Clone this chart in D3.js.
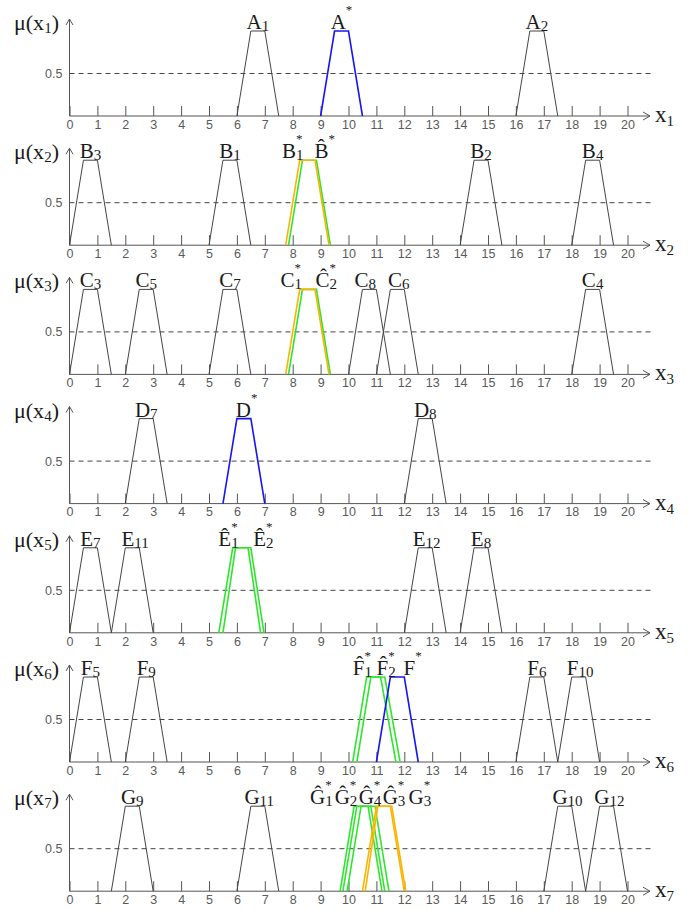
<!DOCTYPE html>
<html>
<head>
<meta charset="utf-8">
<script src="https://cdn.jsdelivr.net/npm/d3@7"></script>
<style>
  body { margin: 0; background: #fff; }
  .tick text { font-family: "Liberation Sans", Arial, sans-serif; font-size: 12.5px; fill: #5a5a5a; }
  .lab { font-family: "Liberation Serif", "Times New Roman", serif; fill: #1a1a1a; }
</style>
</head>
<body>
<svg width="695" height="910"></svg>
<script>
// tick labels on every x axis
var xTicks = [0,1,2,3,4,5,6,7,8,9,10,11,12,13,14,15,16,17,18,19,20];
var panelIds = ["1","2","3","4","5","6","7"];

// each set: letter, subscript, star, hat, kind, trapezoid corners, label x (data units)
var setsX1 = [
  {l:"A", sub:"1", star:false, hat:false, kind:"base",  pts:[6,6.5,7,7.5], at:6.75},
  {l:"A", sub:"",  star:true,  hat:false, kind:"blue",  pts:[9,9.5,10,10.5], at:9.75},
  {l:"A", sub:"2", star:false, hat:false, kind:"base",  pts:[16,16.5,17,17.5], at:16.75}
];
var setsX2 = [
  {l:"B", sub:"3", star:false, hat:false, kind:"base",  pts:[0,0.5,1,1.5], at:0.75},
  {l:"B", sub:"1", star:false, hat:false, kind:"base",  pts:[5,5.5,6,6.5], at:5.75},
  {l:"B", sub:"",  star:true,  hat:true,  kind:"green", pts:[7.85,8.35,8.85,9.35], at:9.15},
  {l:"B", sub:"1", star:true,  hat:false, kind:"yellow",pts:[7.75,8.25,8.8,9.3], at:8.0},
  {l:"B", sub:"2", star:false, hat:false, kind:"base",  pts:[14,14.5,15,15.5], at:14.75},
  {l:"B", sub:"4", star:false, hat:false, kind:"base",  pts:[18,18.5,19,19.5], at:18.75}
];
var setsX3 = [
  {l:"C", sub:"3", star:false, hat:false, kind:"base",  pts:[0,0.5,1,1.5], at:0.75},
  {l:"C", sub:"5", star:false, hat:false, kind:"base",  pts:[2,2.5,3,3.5], at:2.75},
  {l:"C", sub:"7", star:false, hat:false, kind:"base",  pts:[5,5.5,6,6.5], at:5.75},
  {l:"C", sub:"2", star:true,  hat:true,  kind:"green", pts:[7.85,8.35,8.85,9.35], at:9.2},
  {l:"C", sub:"1", star:true,  hat:false, kind:"yellow",pts:[7.75,8.25,8.8,9.3], at:7.95},
  {l:"C", sub:"8", star:false, hat:false, kind:"base",  pts:[10,10.5,11,11.5], at:10.6},
  {l:"C", sub:"6", star:false, hat:false, kind:"base",  pts:[11,11.5,12,12.5], at:11.8},
  {l:"C", sub:"4", star:false, hat:false, kind:"base",  pts:[18,18.5,19,19.5], at:18.75}
];
var setsX4 = [
  {l:"D", sub:"7", star:false, hat:false, kind:"base",  pts:[2,2.5,3,3.5], at:2.75},
  {l:"D", sub:"",  star:true,  hat:false, kind:"blue",  pts:[5.5,6,6.5,7], at:6.35},
  {l:"D", sub:"8", star:false, hat:false, kind:"base",  pts:[12,12.5,13,13.5], at:12.75}
];
var setsX5 = [
  {l:"E", sub:"7",  star:false, hat:false, kind:"base",  pts:[0,0.5,1,1.5], at:0.75},
  {l:"E", sub:"11", star:false, hat:false, kind:"base",  pts:[1.5,2,2.5,3], at:2.35},
  {l:"E", sub:"1",  star:true,  hat:true,  kind:"green", pts:[5.35,5.85,6.4,6.85], at:5.7},
  {l:"E", sub:"2",  star:true,  hat:true,  kind:"green", pts:[5.5,5.95,6.5,6.97], at:6.95},
  {l:"E", sub:"12", star:false, hat:false, kind:"base",  pts:[12,12.5,13,13.5], at:12.8},
  {l:"E", sub:"8",  star:false, hat:false, kind:"base",  pts:[14,14.5,15,15.5], at:14.75}
];
var setsX6 = [
  {l:"F", sub:"5",  star:false, hat:false, kind:"base",  pts:[0,0.5,1,1.5], at:0.75},
  {l:"F", sub:"9",  star:false, hat:false, kind:"base",  pts:[2,2.5,3,3.5], at:2.75},
  {l:"F", sub:"1",  star:true,  hat:true,  kind:"green", pts:[10.15,10.65,11.15,11.7], at:10.5},
  {l:"F", sub:"2",  star:true,  hat:true,  kind:"green", pts:[10.3,10.8,11.3,11.85], at:11.35},
  {l:"F", sub:"",   star:true,  hat:false, kind:"blue",  pts:[11,11.5,12,12.5], at:12.3},
  {l:"F", sub:"6",  star:false, hat:false, kind:"base",  pts:[16,16.5,17,17.5], at:16.75},
  {l:"F", sub:"10", star:false, hat:false, kind:"base",  pts:[17.5,18,18.5,19], at:18.3}
];
var setsX7 = [
  {l:"G", sub:"9",  star:false, hat:false, kind:"base",  pts:[1.5,2,2.5,3], at:2.25},
  {l:"G", sub:"11", star:false, hat:false, kind:"base",  pts:[6,6.5,7,7.5], at:6.8},
  {l:"G", sub:"1",  star:true,  hat:true,  kind:"green", pts:[9.7,10.2,10.7,11.2], at:9.03},
  {l:"G", sub:"2",  star:true,  hat:true,  kind:"green", pts:[9.8,10.3,10.8,11.3], at:9.91},
  {l:"G", sub:"4",  star:true,  hat:true,  kind:"green", pts:[9.95,10.45,10.95,11.45], at:10.77},
  {l:"G", sub:"3",  star:true,  hat:true,  kind:"yellow",pts:[10.5,11,11.5,12], at:11.63},
  {l:"G", sub:"3",  star:true,  hat:false, kind:"yellow",pts:[10.6,11.05,11.55,12.05], at:12.56},
  {l:"G", sub:"10", star:false, hat:false, kind:"base",  pts:[17,17.5,18,18.5], at:17.85},
  {l:"G", sub:"12", star:false, hat:false, kind:"base",  pts:[18.5,19,19.5,20], at:19.35}
];
var allSets = [setsX1, setsX2, setsX3, setsX4, setsX5, setsX6, setsX7];

var svg = d3.select("svg");
var colors = {base: "#444", blue: "#1616f0", green: "#2ee62e", yellow: "#fbb400"};
var widths = {base: 1, blue: 1.6, green: 1.6, yellow: 1.6};

var x = d3.scaleLinear().domain([0, 20]).range([69.5, 627.5]);
var top0 = 116, step = 129.2;

panelIds.forEach(function(id, i) {
  var base = top0 + i * step;
  var y = d3.scaleLinear().domain([0, 1]).range([base, base - 85]);
  var g = svg.append("g");

  // x axis with upward ticks
  var ax = g.append("g")
      .attr("transform", "translate(0," + base + ")")
      .call(d3.axisBottom(x).tickValues(xTicks).tickSize(-10).tickPadding(4).tickFormat(d3.format("d")));
  ax.select(".domain").remove();
  ax.selectAll(".tick line").attr("stroke", "#555");

  g.append("line").attr("x1", x(0)).attr("x2", 650).attr("y1", base).attr("y2", base)
      .attr("stroke", "#555");
  g.append("path").attr("d", "M643," + (base - 4) + "L650," + base + "L643," + (base + 4))
      .attr("fill", "none").attr("stroke", "#555");

  // y axis
  g.append("line").attr("x1", x(0)).attr("x2", x(0)).attr("y1", base).attr("y2", base - 97)
      .attr("stroke", "#555");
  g.append("path").attr("d", "M" + (x(0) - 3.5) + "," + (base - 91) + "L" + x(0) + "," + (base - 97) + "L" + (x(0) + 3.5) + "," + (base - 91))
      .attr("fill", "none").attr("stroke", "#555");

  var ay = g.append("g")
      .attr("transform", "translate(" + x(0) + ",0)")
      .call(d3.axisLeft(y).tickValues([0.5]).tickSize(0).tickPadding(7));
  ay.select(".domain").remove();

  // 0.5 dashed line
  g.append("line").attr("x1", x(0)).attr("x2", 652).attr("y1", y(0.5)).attr("y2", y(0.5))
      .attr("stroke", "#444").attr("stroke-dasharray", "5,4");

  // axis titles
  var yl = g.append("text").attr("class", "lab").attr("x", 14).attr("y", base - 86).attr("font-size", 22);
  yl.append("tspan").text("\u03bc(x");
  yl.append("tspan").attr("font-size", 15).attr("dy", 3).text(id);
  yl.append("tspan").attr("dy", -3).text(")");

  var xl = g.append("text").attr("class", "lab").attr("x", 655).attr("y", base + 6).attr("font-size", 23);
  xl.append("tspan").text("x");
  xl.append("tspan").attr("font-size", 15).attr("dy", 4).text(id);

  // trapezoids
  var line = d3.line().x(function(d) { return x(d[0]); }).y(function(d) { return y(d[1]); });
  allSets[i].forEach(function(s) {
    var p = s.pts;
    g.append("path")
      .attr("d", line([[p[0], 0], [p[1], 1], [p[2], 1], [p[3], 0]]))
      .attr("fill", "none")
      .attr("stroke", colors[s.kind])
      .attr("stroke-width", widths[s.kind]);
  });

  // labels, star stacked over the subscript
  allSets[i].forEach(function(s) {
    var t = g.append("text").attr("class", "lab")
      .attr("x", x(s.at)).attr("y", y(1) - 2)
      .attr("font-size", 21).attr("text-anchor", "middle");
    t.append("tspan").text(s.hat ? s.l + "\u0302" : s.l);
    if (s.sub) t.append("tspan").attr("font-size", 15).attr("dy", 2).text(s.sub);
    if (s.star) {
      var back = s.sub ? -7.5 * s.sub.length : 0;
      t.append("tspan").attr("font-size", 13).attr("dx", back).attr("dy", s.sub ? -17 : -15).text("*");
    }
  });
});
</script>
</body>
</html>
